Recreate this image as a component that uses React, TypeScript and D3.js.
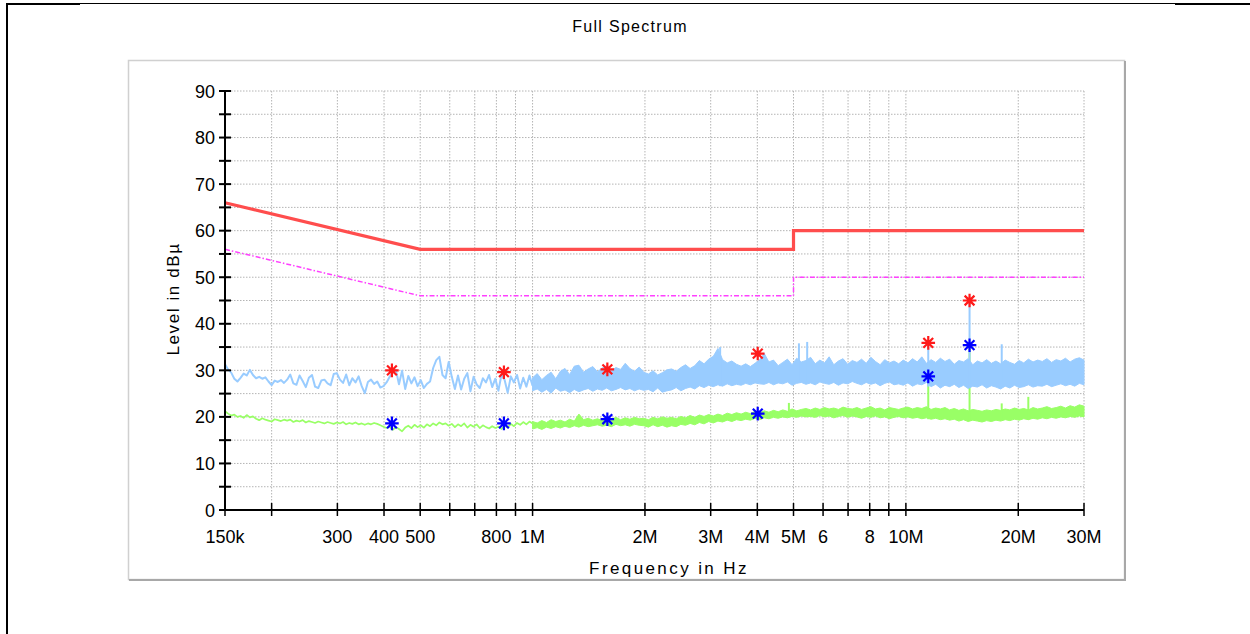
import * as d3 from "d3";

const WIDTH = 1250;
const HEIGHT = 634;
const PLOT = { left: 225, right: 1084, top: 91, bottom: 510 };

// sweep layout (Hz): sparse trace up to 1 MHz, dense band above it
const sweepStart = 150e3;
const sweepSplit = 1e6;
const sweepStop = 30e6;

// peak trace (light blue), 150 kHz .. 1 MHz
const peakSparse = [
  31.3, 30.2, 29.5, 28.2, 27.6, 28.4, 29.3, 28.9, 30.1, 29.0,
  28.3, 28.6, 28.2, 28.5, 27.6, 26.8, 27.8, 27.5, 27.9, 27.3,
  28.0, 29.1, 27.2, 26.9, 28.9, 27.7, 26.4, 28.4, 29.0, 26.5,
  26.2, 27.8, 28.0, 27.2, 26.8, 29.2, 29.4, 28.0, 27.3, 29.1,
  26.8, 28.3, 27.4, 28.7, 26.6, 25.1, 27.5, 28.0, 27.1, 27.6,
  26.3, 26.6, 27.4, 28.6, 29.6, 30.1, 27.0, 29.9, 26.0, 28.8,
  27.2, 28.5, 26.6, 27.9, 26.2, 27.1, 27.6, 30.5, 32.2, 32.9,
  29.0, 28.3, 31.8, 28.6, 26.0, 28.9, 25.9, 28.2, 29.4, 25.5,
  28.6, 27.0, 26.2, 28.3, 27.4, 29.0, 26.4, 28.2, 25.6, 29.1,
  27.9, 25.2, 28.7, 27.4, 29.0, 26.1, 28.4, 26.5, 28.9, 26.7,
];

// average trace (green), 150 kHz .. 1 MHz
const avgSparse = [
  21.2, 20.7, 20.3, 20.5, 20.0, 20.2, 19.8, 20.4, 19.9, 20.1,
  19.6, 19.3, 19.7, 19.4, 19.2, 19.0, 19.5, 19.3, 19.1, 19.4,
  19.2, 19.4, 18.9, 19.2, 19.0, 19.3, 18.8, 19.1, 18.9, 18.7,
  19.0, 18.8, 18.6, 18.9, 18.7, 18.5, 18.8, 18.6, 18.9, 18.4,
  18.7, 18.5, 18.8, 18.4, 18.6, 18.3, 18.6, 18.4, 18.7, 18.5,
  18.2, 17.9, 17.6, 17.9, 17.2, 17.8, 17.4, 16.9, 17.7, 18.1,
  17.6, 18.3, 17.8, 18.2, 17.7, 18.4, 18.0, 18.6, 18.2, 18.8,
  18.4, 18.6, 18.1, 18.5, 17.8, 18.4, 18.0, 18.6, 17.7, 18.3,
  17.9, 18.4, 17.6, 18.2, 17.8, 17.5, 18.0, 17.6, 17.9, 17.4,
  18.1, 17.7, 18.5, 18.0, 18.7, 18.3, 18.9, 18.4, 19.0, 18.6,
];

// 1 MHz .. 30 MHz, envelope per bin (max / min)
const peakHi = [
  28.4, 29.3, 28.0, 28.9, 29.6, 28.2, 29.8, 30.4, 29.1, 30.9,
  31.1, 29.6, 30.3, 30.8, 29.7, 30.5, 31.0, 29.9, 30.6, 30.2,
  31.5, 30.4, 29.8, 30.7, 29.6, 29.2, 29.9, 29.0, 29.5, 30.1,
  30.3, 29.8, 30.6, 31.2, 30.4, 31.0, 32.1, 31.4, 32.4, 33.0,
  34.7, 32.3, 31.6, 32.0, 31.3, 30.9, 31.4, 30.8, 31.5, 32.3,
  33.6, 31.8, 32.2, 31.0, 31.7, 32.4, 31.2, 32.6, 31.8, 32.1,
  32.8, 31.4, 32.2, 31.6, 32.9, 31.2, 32.0, 32.5, 31.3, 32.1,
  31.7, 32.4, 31.5, 32.8, 31.9, 31.2, 32.3, 31.6, 32.0, 31.4,
  32.2, 31.6, 32.5, 31.8, 32.9, 31.5, 32.3, 31.7, 32.6, 31.9,
  32.4, 31.3, 32.1, 31.8, 32.5, 31.2, 32.0, 31.6, 32.3, 31.5,
  32.0, 31.4, 32.2, 31.7, 31.3, 32.1, 31.6, 32.4, 31.8, 32.2,
  31.9, 32.5, 31.7, 32.3, 32.0, 32.6, 31.8, 32.4, 32.7, 32.2,
];
const peakLo = [
  25.6, 26.0, 25.3, 25.9, 25.1, 26.2, 25.5, 25.8, 25.2, 25.9,
  25.4, 25.8, 26.1, 25.5, 26.0, 25.7, 26.2, 25.6, 25.9, 26.3,
  25.8, 26.1, 25.6, 26.0, 25.7, 25.9, 25.4, 26.2, 25.3, 25.6,
  25.8, 26.3, 25.6, 26.1, 26.4, 26.0, 26.7, 26.3, 26.8, 26.5,
  26.9, 26.6, 27.1, 26.7, 27.0, 26.8, 27.2, 26.9, 27.3, 27.1,
  27.0, 27.4, 26.9, 27.3, 27.1, 27.5, 26.8, 27.2, 27.4, 27.0,
  27.3, 26.9, 27.5, 27.2, 27.0, 27.4, 26.8, 27.3, 27.1, 27.6,
  27.2, 26.9, 27.4, 27.0, 27.3, 26.7, 27.2, 27.5, 26.9, 27.1,
  26.8, 27.3, 26.6, 27.1, 26.9, 27.4, 26.5, 27.0, 26.2, 26.8,
  26.5, 27.0, 26.3, 26.8, 26.1, 26.6, 26.4, 26.9, 26.2, 26.7,
  26.4, 26.0, 26.6, 26.2, 26.8, 26.3, 26.5, 26.9, 26.4, 26.7,
  26.6, 27.0, 26.5, 26.8, 27.1, 26.7, 27.0, 26.6, 27.2, 26.9,
];
const avgHi = [
  19.0, 18.7, 19.2, 18.8, 19.4, 19.0, 19.3, 18.9, 19.5, 19.1,
  20.6, 19.4, 19.7, 19.3, 19.6, 19.2, 19.8, 19.5, 19.9, 19.4,
  19.8, 19.5, 19.9, 19.6, 19.7, 19.4, 19.9, 19.6, 20.0, 19.7,
  19.9, 19.6, 20.1, 19.8, 20.3, 19.9, 20.4, 20.1, 20.5, 20.2,
  20.6, 20.3, 20.8, 20.5, 20.9, 20.6, 21.0, 20.7, 21.2, 20.9,
  21.3, 21.0, 21.4, 21.1, 21.5, 21.2, 21.7, 21.3, 21.6, 21.8,
  21.5, 21.9, 21.6, 22.0, 21.7, 21.9, 21.6, 22.1, 21.8, 21.7,
  22.0, 21.6, 21.9, 22.2, 21.7, 21.9, 21.5, 22.0, 21.8, 21.6,
  21.9, 22.1, 21.7, 22.0, 21.8, 22.2, 21.6, 21.9, 21.7, 22.0,
  21.5, 21.8, 21.4, 21.7, 21.3, 21.6, 21.4, 21.2, 21.5, 21.3,
  21.6, 21.4, 21.7, 21.5, 21.9, 21.6, 21.8, 21.5, 22.0, 21.7,
  21.9, 22.2, 21.8, 22.0, 22.3, 21.9, 22.4, 22.1, 22.6, 22.3,
];
const avgLo = [
  17.4, 17.7, 17.3, 17.8, 17.5, 17.9, 17.6, 18.0, 17.7, 18.1,
  17.8, 18.2, 17.9, 18.1, 18.3, 18.0, 18.2, 17.9, 18.4, 18.1,
  18.3, 18.0, 18.4, 18.2, 18.1, 17.8, 18.3, 17.9, 18.2, 17.8,
  18.1, 17.9, 18.4, 18.2, 18.6, 18.3, 18.8, 18.5, 19.0, 18.7,
  19.1, 18.9, 19.3, 19.0, 19.4, 19.2, 19.5, 19.3, 19.7, 19.4,
  19.8, 19.6, 19.9, 19.7, 20.0, 19.8, 20.1, 19.9, 20.2, 20.0,
  20.1, 19.9, 20.3, 20.0, 20.2, 19.8, 20.1, 20.3, 19.9, 20.2,
  20.0, 19.7, 20.1, 19.9, 20.2, 19.8, 20.0, 19.6, 19.9, 20.1,
  19.8, 20.0, 19.7, 19.9, 19.6, 19.8, 19.5, 19.7, 19.4, 19.6,
  19.3, 19.5, 19.1, 19.4, 19.0, 19.3, 19.1, 18.9, 19.2, 19.0,
  19.3, 19.1, 19.4, 19.2, 19.5, 19.3, 19.6, 19.4, 19.7, 19.5,
  19.8, 19.6, 19.9, 19.7, 20.0, 19.8, 20.1, 19.9, 20.2, 20.0,
];

// narrow spikes sticking out of the band
const peakSpikes = [
  { f: 3.18e6, top: 35.0 },
  { f: 5.17e6, top: 35.8 },
  { f: 5.44e6, top: 36.1 },
  { f: 11.48e6, top: 35.9 },
  { f: 14.81e6, top: 45.0 },
  { f: 18.06e6, top: 35.6 },
];
const avgSpikes = [
  { f: 4.86e6, top: 23.0 },
  { f: 11.48e6, top: 28.6 },
  { f: 14.81e6, top: 35.4 },
  { f: 18.06e6, top: 22.9 },
  { f: 21.28e6, top: 24.3 },
];

// final measurement markers
const qpMarkers = [
  { f: 420e3, level: 30.0 },
  { f: 838e3, level: 29.6 },
  { f: 1.586e6, level: 30.2 },
  { f: 4.01e6, level: 33.6 },
  { f: 11.48e6, level: 35.9 },
  { f: 14.81e6, level: 45.0 },
];
const avMarkers = [
  { f: 420e3, level: 18.6 },
  { f: 838e3, level: 18.6 },
  { f: 1.586e6, level: 19.5 },
  { f: 4.01e6, level: 20.7 },
  { f: 11.48e6, level: 28.7 },
  { f: 14.81e6, level: 35.4 },
];

// limit lines
const qpLimit = [
  { f: 150e3, level: 66 },
  { f: 500e3, level: 56 },
  { f: 5e6, level: 56 },
  { f: 5e6, level: 60 },
  { f: 30e6, level: 60 },
];
const avLimit = [
  { f: 150e3, level: 56 },
  { f: 500e3, level: 46 },
  { f: 5e6, level: 46 },
  { f: 5e6, level: 50 },
  { f: 30e6, level: 50 },
];

const tickFreqs = [
  150e3, 200e3, 300e3, 400e3, 500e3, 600e3, 700e3, 800e3, 900e3, 1e6,
  2e6, 3e6, 4e6, 5e6, 6e6, 7e6, 8e6, 9e6, 10e6, 20e6, 30e6,
];
const tickLabels = [
  "150k", "", "300", "400", "500", "", "", "800", "", "1M",
  "2M", "3M", "4M", "5M", "6", "", "8", "", "10M", "20M", "30M",
];
const levelTicks = d3.range(0, 91, 5);

const FONT = "'Liberation Sans', Arial, sans-serif";

const asterisk = (r: number) => {
  const d = r * 0.72;
  return `M0,${-r}V${r}M${-r},0H${r}M${-d},${-d}L${d},${d}M${-d},${d}L${d},${-d}`;
};

const App = () => {
  const xScale = d3
    .scaleLog()
    .domain([sweepStart, sweepStop])
    .range([PLOT.left, PLOT.right]);
  const yScale = d3.scaleLinear().domain([0, 90]).range([PLOT.bottom, PLOT.top]);

  const sparseFreqs = peakSparse.map(
    (_, i) => sweepStart * Math.pow(sweepSplit / sweepStart, i / (peakSparse.length - 1))
  );
  const bandFreqs = peakHi.map(
    (_, j) => sweepSplit * Math.pow(sweepStop / sweepSplit, j / (peakHi.length - 1))
  );

  const line = d3
    .line<[number, number]>()
    .x((d) => xScale(d[0]))
    .y((d) => yScale(d[1]));

  const bandPath = (lo: number[], hi: number[]) =>
    d3
      .area<number>()
      .x((_, j) => xScale(bandFreqs[j]))
      .y0((_, j) => yScale(lo[j]))
      .y1((_, j) => yScale(hi[j]))(hi)!;

  const limitLine = d3
    .line<{ f: number; level: number }>()
    .x((d) => xScale(d.f))
    .y((d) => yScale(d.level));

  const peakColor = "#99ccff";
  const avgColor = "#99ff66";

  const grid = (
    <g stroke="#b4b4b4" strokeWidth={1} strokeDasharray="1.5 1.5">
      {levelTicks
        .filter((v) => v > 0)
        .map((v) => (
          <line key={"h" + v} x1={PLOT.left} x2={PLOT.right} y1={yScale(v)} y2={yScale(v)} />
        ))}
      {tickFreqs.slice(1).map((f) => (
        <line key={"v" + f} x1={xScale(f)} x2={xScale(f)} y1={PLOT.top} y2={PLOT.bottom} />
      ))}
    </g>
  );

  const trace = (
    sparse: number[],
    lo: number[],
    hi: number[],
    spikes: { f: number; top: number }[],
    color: string,
    width: number
  ) => (
    <g>
      <path
        d={line(sparse.map((v, i) => [sparseFreqs[i], v]))!}
        fill="none"
        stroke={color}
        strokeWidth={width}
        strokeLinejoin="round"
      />
      <path d={bandPath(lo, hi)} fill={color} stroke={color} strokeWidth={1} />
      {spikes.map((s, i) => {
        const j = d3.bisectLeft(bandFreqs, s.f);
        return (
          <line
            key={i}
            x1={xScale(s.f)}
            x2={xScale(s.f)}
            y1={yScale(lo[Math.min(j, lo.length - 1)])}
            y2={yScale(s.top)}
            stroke={color}
            strokeWidth={2}
          />
        );
      })}
    </g>
  );

  return (
    <div style={{ position: "absolute", left: 0, top: 0 }}>
      <svg width={WIDTH} height={HEIGHT} style={{ display: "block", background: "#fff" }}>
        {/* outer frame */}
        <line x1={7} x2={WIDTH} y1={3.5} y2={3.5} stroke="#000" strokeWidth={1} />
        <line x1={7} x2={80} y1={4} y2={4} stroke="#000" strokeWidth={2} />
        <line x1={1175} x2={WIDTH} y1={4} y2={4} stroke="#000" strokeWidth={2} />
        <line x1={7} x2={7} y1={3} y2={HEIGHT} stroke="#000" strokeWidth={2} />

        <text
          x={630}
          y={32}
          textAnchor="middle"
          fontFamily={FONT}
          fontSize={16}
          letterSpacing={1.3}
        >
          Full Spectrum
        </text>

        {/* inner panel */}
        <rect x={128.5} y={60.5} width={996} height={519} fill="#fff" stroke="#d0d0d0" strokeWidth={1.5} />
        <line x1={1125} x2={1125} y1={61} y2={581} stroke="#a8a8a8" strokeWidth={2} />
        <line x1={129} x2={1126} y1={580} y2={580} stroke="#a8a8a8" strokeWidth={2} />

        {grid}

        <path d={limitLine(qpLimit)!} fill="none" stroke="#ff4d4d" strokeWidth={3.2} />
        <path
          d={limitLine(avLimit)!}
          fill="none"
          stroke="#ff40ff"
          strokeWidth={1.5}
          strokeDasharray="5 2 1.5 2"
        />

        {trace(avgSparse, avgLo, avgHi, avgSpikes, avgColor, 1.7)}
        {trace(peakSparse, peakLo, peakHi, peakSpikes, peakColor, 2)}

        {qpMarkers.map((m, i) => (
          <path
            key={"qp" + i}
            d={asterisk(6.8)}
            transform={`translate(${xScale(m.f)},${yScale(m.level)})`}
            stroke="#ff1a1a"
            strokeWidth={2.2}
            fill="none"
          />
        ))}
        {avMarkers.map((m, i) => (
          <path
            key={"av" + i}
            d={asterisk(6.8)}
            transform={`translate(${xScale(m.f)},${yScale(m.level)})`}
            stroke="#0000ff"
            strokeWidth={2.2}
            fill="none"
          />
        ))}

        {/* y axis */}
        <line x1={PLOT.left} x2={PLOT.left} y1={PLOT.top} y2={PLOT.bottom + 1} stroke="#000" strokeWidth={2} />
        {levelTicks.map((v) => (
          <g key={"yt" + v}>
            <line x1={PLOT.left - 6} x2={PLOT.left + 6} y1={yScale(v)} y2={yScale(v)} stroke="#000" strokeWidth={2} />
            {v % 10 === 0 && (
              <text
                x={PLOT.left - 10}
                y={yScale(v) + 6.5}
                textAnchor="end"
                fontFamily={FONT}
                fontSize={18}
              >
                {v}
              </text>
            )}
          </g>
        ))}
        <text
          transform={`translate(179,299) rotate(-90)`}
          textAnchor="middle"
          fontFamily={FONT}
          fontSize={17}
          letterSpacing={1.6}
        >
          Level in dBµ
        </text>

        {/* x axis */}
        <line x1={PLOT.left - 1} x2={PLOT.right} y1={PLOT.bottom} y2={PLOT.bottom} stroke="#000" strokeWidth={2} />
        {tickFreqs.map((f, i) => (
          <g key={"xt" + f}>
            <line x1={xScale(f)} x2={xScale(f)} y1={PLOT.bottom - 7} y2={PLOT.bottom + 6} stroke="#000" strokeWidth={1.5} />
            {tickLabels[i] && (
              <text
                x={xScale(f)}
                y={543}
                textAnchor="middle"
                fontFamily={FONT}
                fontSize={18}
              >
                {tickLabels[i]}
              </text>
            )}
          </g>
        ))}
        <text
          x={669}
          y={574}
          textAnchor="middle"
          fontFamily={FONT}
          fontSize={17}
          letterSpacing={2.4}
        >
          Frequency in Hz
        </text>
      </svg>
    </div>
  );
};

export default App;
